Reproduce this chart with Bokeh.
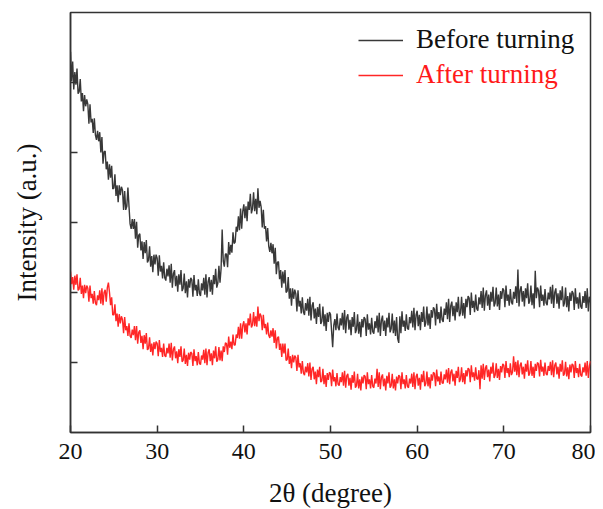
import numpy as np
from bokeh.plotting import figure
from bokeh.models import FixedTicker, Legend, LegendItem, Range1d
from bokeh.embed import file_html
from bokeh.resources import INLINE

# 2-theta sampling grid (degrees)
two_theta_start = 20.0
two_theta_step = 0.125

# Intensity (a.u.); one row per degree (8 samples per degree)
before_turning = [
    5.44, 5.02, 5.30, 4.90, 5.15, 4.97, 5.20, 4.84,   # 20
    4.87, 5.05, 4.73, 4.85, 4.59, 4.82, 4.66, 4.76,   # 21
    4.69, 4.41, 4.69, 4.43, 4.48, 4.28, 4.49, 4.25,   # 22
    4.18, 4.31, 4.16, 4.29, 4.00, 4.22, 3.84, 4.01,   # 23
    4.02, 3.76, 3.87, 3.61, 3.83, 3.64, 3.81, 3.48,   # 24
    3.49, 3.69, 3.38, 3.53, 3.29, 3.53, 3.39, 3.51,   # 25
    3.46, 3.18, 3.45, 3.18, 3.23, 3.50, 3.23, 2.98,   # 26
    2.91, 3.05, 2.91, 3.05, 2.77, 3.01, 2.64, 2.82,   # 27
    2.84, 2.60, 2.73, 2.48, 2.72, 2.56, 2.75, 2.43,   # 28
    2.46, 2.66, 2.37, 2.52, 2.29, 2.54, 2.40, 2.54,   # 29
    2.49, 2.24, 2.53, 2.30, 2.38, 2.20, 2.43, 2.21,   # 30
    2.17, 2.34, 2.23, 2.39, 2.14, 2.41, 2.07, 2.27,   # 31
    2.32, 2.09, 2.24, 2.01, 2.26, 2.11, 2.32, 2.02,   # 32
    2.06, 2.27, 1.99, 2.16, 1.93, 2.19, 2.07, 2.21,   # 33
    2.18, 1.94, 2.25, 2.03, 2.11, 1.95, 2.19, 1.99,   # 34
    1.95, 2.13, 2.03, 2.21, 1.97, 2.26, 1.93, 2.15,   # 35
    2.22, 2.01, 2.18, 1.97, 2.25, 2.12, 2.34, 2.07,   # 36
    2.13, 2.38, 2.14, 2.34, 2.90, 2.45, 2.37, 2.55,   # 37
    2.55, 2.36, 2.72, 2.54, 2.68, 2.57, 2.86, 2.70,   # 38
    2.72, 2.94, 2.87, 3.09, 2.89, 3.20, 2.91, 3.16,   # 39
    3.26, 3.06, 3.23, 3.02, 3.30, 3.18, 3.41, 3.13,   # 40
    3.20, 3.43, 3.16, 3.34, 3.12, 3.49, 3.21, 3.31,   # 41
    3.22, 2.93, 3.18, 2.91, 2.95, 2.73, 2.92, 2.66,   # 42
    2.58, 2.71, 2.56, 2.69, 2.41, 2.64, 2.26, 2.43,   # 43
    2.44, 2.19, 2.32, 2.07, 2.30, 2.13, 2.32, 2.00,   # 44
    2.02, 2.22, 1.91, 2.06, 1.81, 2.06, 1.91, 2.04,   # 45
    1.98, 1.73, 2.03, 1.80, 1.88, 1.70, 1.93, 1.72,   # 46
    1.68, 1.85, 1.74, 1.91, 1.67, 1.94, 1.60, 1.81,   # 47
    1.86, 1.63, 1.77, 1.55, 1.79, 1.65, 1.84, 1.55,   # 48
    1.59, 1.80, 1.52, 1.69, 1.45, 1.71, 1.58, 1.72,   # 49
    1.69, 1.45, 1.22, 1.53, 1.62, 1.46, 1.70, 1.50,   # 50
    1.46, 1.63, 1.53, 1.71, 1.47, 1.75, 1.42, 1.64,   # 51
    1.69, 1.47, 1.61, 1.39, 1.65, 1.51, 1.72, 1.42,   # 52
    1.47, 1.69, 1.41, 1.58, 1.36, 1.62, 1.50, 1.65,   # 53
    1.62, 1.38, 1.69, 1.47, 1.56, 1.40, 1.64, 1.44,   # 54
    1.41, 1.59, 1.49, 1.67, 1.43, 1.71, 1.38, 1.60,   # 55
    1.67, 1.45, 1.60, 1.38, 1.64, 1.50, 1.71, 1.43,   # 56
    1.48, 1.70, 1.42, 1.60, 1.38, 1.65, 1.34, 1.28,   # 57
    1.66, 1.42, 1.73, 1.51, 1.60, 1.45, 1.69, 1.49,   # 58
    1.47, 1.65, 1.56, 1.74, 1.50, 1.78, 1.46, 1.68,   # 59
    1.74, 1.52, 1.68, 1.46, 1.72, 1.58, 1.80, 1.51,   # 60
    1.57, 1.80, 1.53, 1.70, 1.48, 1.75, 1.64, 1.79,   # 61
    1.76, 1.53, 1.84, 1.62, 1.72, 1.56, 1.80, 1.61,   # 62
    1.58, 1.77, 1.68, 1.86, 1.62, 1.91, 1.58, 1.81,   # 63
    1.87, 1.66, 1.81, 1.60, 1.86, 1.72, 1.94, 1.66,   # 64
    1.71, 1.94, 1.67, 1.85, 1.63, 1.91, 1.79, 1.95,   # 65
    1.92, 1.68, 2.00, 1.78, 1.88, 1.72, 1.97, 1.77,   # 66
    1.74, 1.93, 1.83, 2.02, 1.78, 2.07, 1.74, 1.96,   # 67
    2.03, 1.81, 1.97, 1.75, 2.01, 1.87, 2.08, 1.80,   # 68
    1.85, 2.07, 1.80, 1.97, 1.75, 2.02, 1.91, 2.06,   # 69
    2.03, 1.79, 2.10, 1.88, 1.97, 1.81, 2.05, 1.86,   # 70
    1.83, 2.01, 1.91, 2.09, 1.85, 2.33, 1.80, 2.03,   # 71
    2.09, 1.87, 2.02, 1.80, 2.06, 1.92, 2.13, 1.84,   # 72
    1.88, 2.10, 1.82, 1.99, 1.77, 2.31, 1.92, 2.07,   # 73
    2.03, 1.79, 2.10, 1.88, 1.97, 1.81, 2.05, 1.85,   # 74
    1.82, 2.00, 1.90, 2.08, 1.84, 2.11, 1.78, 2.00,   # 75
    2.06, 1.84, 1.99, 1.77, 2.03, 1.89, 2.09, 1.80,   # 76
    1.85, 2.07, 1.79, 1.95, 1.73, 2.00, 1.88, 2.02,   # 77
    1.99, 1.75, 2.06, 1.84, 1.93, 1.77, 2.00, 1.80,   # 78
    1.77, 1.95, 1.85, 2.02, 1.78, 2.06, 1.73, 1.94,   # 79
    1.86,                                             # 80
]

after_turning = [
    2.30, 2.12, 2.22, 2.04, 2.24, 2.11, 2.26, 2.03,   # 20
    2.05, 2.21, 1.98, 2.10, 1.92, 2.11, 1.99, 2.10,   # 21
    2.06, 1.87, 2.10, 1.92, 1.98, 1.84, 2.02, 1.85,   # 22
    1.82, 1.96, 1.89, 2.03, 1.84, 2.06, 1.82, 2.00,   # 23
    2.04, 1.87, 2.07, 2.14, 2.00, 1.82, 1.93, 1.68,   # 24
    1.68, 1.83, 1.59, 1.70, 1.51, 1.69, 1.56, 1.66,   # 25
    1.61, 1.42, 1.65, 1.46, 1.52, 1.38, 1.56, 1.38,   # 26
    1.35, 1.47, 1.39, 1.52, 1.32, 1.52, 1.27, 1.43,   # 27
    1.46, 1.28, 1.38, 1.19, 1.39, 1.27, 1.42, 1.18,   # 28
    1.20, 1.36, 1.15, 1.27, 1.10, 1.29, 1.19, 1.30,   # 29
    1.27, 1.09, 1.32, 1.15, 1.21, 1.08, 1.27, 1.10,   # 30
    1.08, 1.21, 1.13, 1.27, 1.07, 1.28, 1.03, 1.19,   # 31
    1.23, 1.06, 1.16, 0.99, 1.19, 1.08, 1.23, 1.01,   # 32
    1.03, 1.20, 0.98, 1.11, 0.95, 1.14, 1.04, 1.15,   # 33
    1.13, 0.95, 1.19, 1.02, 1.09, 0.96, 1.15, 0.99,   # 34
    0.97, 1.10, 1.04, 1.18, 0.99, 1.20, 0.96, 1.14,   # 35
    1.19, 1.02, 1.13, 0.96, 1.17, 1.06, 1.23, 1.01,   # 36
    1.04, 1.22, 1.03, 1.17, 1.02, 1.23, 1.15, 1.28,   # 37
    1.27, 1.11, 1.37, 1.21, 1.30, 1.19, 1.40, 1.25,   # 38
    1.25, 1.40, 1.35, 1.51, 1.34, 1.56, 1.34, 1.53,   # 39
    1.59, 1.43, 1.56, 1.40, 1.63, 1.53, 1.70, 1.50,   # 40
    1.54, 1.72, 1.52, 1.66, 1.51, 1.80, 1.59, 1.70,   # 41
    1.66, 1.46, 1.68, 1.49, 1.55, 1.40, 1.57, 1.39,   # 42
    1.35, 1.46, 1.37, 1.49, 1.28, 1.46, 1.20, 1.35,   # 43
    1.37, 1.18, 1.27, 1.08, 1.27, 1.13, 1.27, 1.03,   # 44
    1.04, 1.20, 0.98, 1.09, 0.92, 1.11, 1.00, 1.10,   # 45
    1.07, 0.88, 1.11, 0.93, 0.99, 0.84, 1.02, 0.85,   # 46
    0.82, 0.94, 0.86, 0.99, 0.80, 1.00, 0.75, 0.91,   # 47
    0.94, 0.76, 0.87, 0.69, 0.90, 0.79, 0.94, 0.72,   # 48
    0.74, 0.91, 0.69, 0.82, 0.65, 0.85, 0.75, 0.86,   # 49
    0.84, 0.66, 0.90, 0.73, 0.79, 0.66, 0.85, 0.69,   # 50
    0.67, 0.79, 0.72, 0.86, 0.67, 0.88, 0.64, 0.81,   # 51
    0.84, 0.67, 0.78, 0.61, 0.82, 0.71, 0.87, 0.64,   # 52
    0.67, 0.84, 0.63, 0.76, 0.60, 0.80, 0.70, 0.82,   # 53
    0.80, 0.62, 0.86, 0.69, 0.76, 0.63, 0.82, 0.66,   # 54
    0.64, 0.77, 0.70, 0.91, 0.65, 0.86, 0.62, 0.79,   # 55
    0.83, 0.66, 0.77, 0.60, 0.81, 0.70, 0.86, 0.64,   # 56
    0.67, 0.84, 0.63, 0.76, 0.60, 0.80, 0.70, 0.82,   # 57
    0.80, 0.62, 0.86, 0.69, 0.76, 0.63, 0.82, 0.66,   # 58
    0.64, 0.77, 0.70, 0.84, 0.65, 0.86, 0.62, 0.80,   # 59
    0.84, 0.67, 0.78, 0.61, 0.83, 0.72, 0.88, 0.66,   # 60
    0.70, 0.87, 0.66, 0.79, 0.63, 0.83, 0.74, 0.86,   # 61
    0.84, 0.66, 0.90, 0.73, 0.80, 0.68, 0.87, 0.71,   # 62
    0.70, 0.83, 0.76, 0.90, 0.71, 0.92, 0.69, 0.86,   # 63
    0.90, 0.73, 0.84, 0.67, 0.88, 0.78, 0.94, 0.72,   # 64
    0.76, 0.93, 0.72, 0.85, 0.69, 0.89, 0.80, 0.92,   # 65
    0.90, 0.72, 0.96, 0.79, 0.86, 0.74, 0.93, 0.77,   # 66
    0.76, 0.89, 0.62, 0.96, 0.77, 0.98, 0.75, 0.92,   # 67
    0.96, 0.79, 0.90, 0.73, 0.94, 0.84, 1.00, 0.78,   # 68
    0.82, 0.99, 0.78, 0.91, 0.75, 0.95, 0.86, 0.98,   # 69
    0.96, 0.78, 1.02, 0.85, 0.92, 0.79, 0.99, 0.82,   # 70
    0.86, 1.09, 0.87, 1.01, 0.82, 1.03, 0.79, 0.96,   # 71
    1.00, 0.83, 0.94, 0.77, 0.98, 0.87, 1.03, 0.81,   # 72
    0.85, 1.02, 0.81, 0.94, 0.78, 0.98, 0.88, 1.00,   # 73
    0.98, 0.80, 1.04, 0.87, 0.94, 0.81, 1.00, 0.84,   # 74
    0.82, 0.95, 0.88, 1.01, 0.82, 1.03, 0.79, 0.96,   # 75
    1.00, 0.83, 0.94, 0.77, 0.98, 0.87, 1.03, 0.81,   # 76
    0.84, 1.01, 0.80, 0.93, 0.76, 0.97, 0.86, 0.98,   # 77
    0.96, 0.78, 1.02, 0.85, 0.92, 0.79, 0.98, 0.82,   # 78
    0.80, 0.93, 0.86, 1.00, 0.81, 1.02, 0.78, 0.95,   # 79
    1.02,                                             # 80
]

x_ticks = [20, 30, 40, 50, 60, 70, 80]
y_ticks = [1, 2, 3, 4, 5]
series_names = ["Before turning", "After turning"]
series_colors = ["#383838", "#ff2626"]
label_colors = ["#111111", "#ff1a1a"]

two_theta_b = two_theta_start + two_theta_step * np.arange(len(before_turning))
two_theta_a = two_theta_start + two_theta_step * np.arange(len(after_turning))

FONT = "Liberation Serif"
AX = "#333333"

p = figure(frame_width=520, frame_height=420,
           x_range=Range1d(20, 80), y_range=Range1d(0, 6),
           output_backend="svg", toolbar_location=None,
           min_border_left=70, min_border_right=5, min_border_top=12, min_border_bottom=10)

p.background_fill_color = "white"
p.border_fill_color = "white"
p.outline_line_color = AX
p.outline_line_width = 1.5
p.xgrid.visible = False
p.ygrid.visible = False

for ax in (p.xaxis[0], p.yaxis[0]):
    ax.axis_line_color = AX
    ax.axis_line_width = 1.5
    ax.major_tick_line_color = AX
    ax.major_tick_line_width = 1.5
    ax.major_tick_in = 7
    ax.major_tick_out = 0
    ax.minor_tick_line_color = None
    ax.axis_label_text_font = FONT
    ax.axis_label_text_font_style = "normal"
    ax.axis_label_text_font_size = "27px"
    ax.axis_label_text_color = "#111111"

p.xaxis.ticker = FixedTicker(ticks=x_ticks)
p.xaxis.major_label_text_font = FONT
p.xaxis.major_label_text_font_size = "24px"
p.xaxis.major_label_text_color = "#111111"
p.xaxis.major_label_standoff = 11
p.xaxis.axis_label = "2θ (degree)"
p.xaxis.axis_label_standoff = 16

# y ticks carry no numbers in the reference
p.yaxis.ticker = FixedTicker(ticks=y_ticks)
p.yaxis.major_label_overrides = {t: "" for t in y_ticks}
p.yaxis.major_label_standoff = 0
p.yaxis.axis_label = "Intensity (a.u.)"
p.yaxis.axis_label_standoff = 29

r_before = p.line(two_theta_b, before_turning, line_color=series_colors[0], line_width=1.4)
r_after = p.line(two_theta_a, after_turning, line_color=series_colors[1], line_width=1.4)

for name, color, rend, loc in [(series_names[0], label_colors[0], r_before, (288, 377)),
                               (series_names[1], label_colors[1], r_after, (288, 342))]:
    leg = Legend(items=[LegendItem(label=name, renderers=[rend])], location=loc,
                 border_line_color=None, background_fill_alpha=0,
                 padding=0, margin=0, spacing=0,
                 glyph_width=45, glyph_height=20, label_standoff=13,
                 label_height=20,
                 label_text_font=FONT, label_text_font_size="27px",
                 label_text_color=color)
    p.add_layout(leg)

open("out.html", "w").write(file_html(p, INLINE))
